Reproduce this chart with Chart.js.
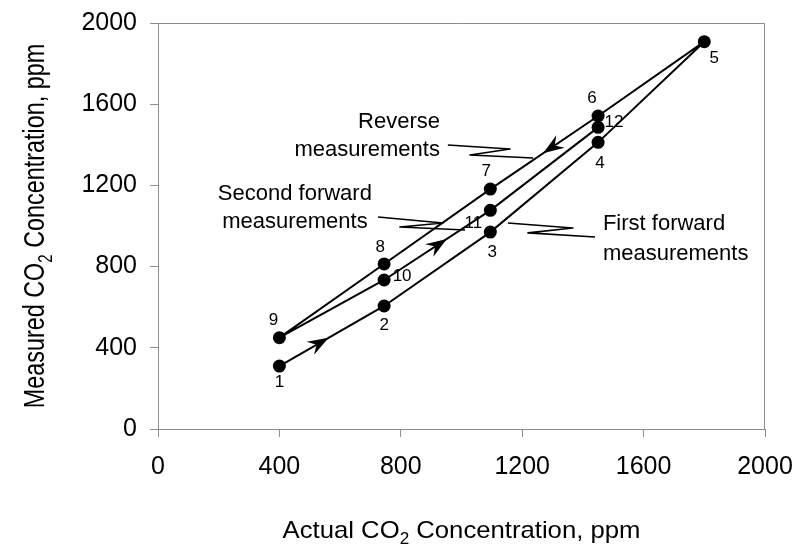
<!DOCTYPE html>
<html>
<head>
<meta charset="utf-8">
<script src="https://cdn.jsdelivr.net/npm/chart.js@4.4.1/dist/chart.umd.min.js"></script>
<style>
  html, body { margin: 0; padding: 0; background: #fff; }
</style>
</head>
<body>
<canvas id="grafico" width="796" height="546"></canvas>
<script>
// measurement sequence: up the range, back down, then up again
const actualPpm   = [400, 745, 1095, 1450, 1800, 1450, 1095, 745, 400, 745, 1095, 1450];
const measuredPpm = [310, 606, 970, 1412, 1908, 1542, 1182, 813, 450, 734, 1077, 1486];
const stepLabels  = ['1', '2', '3', '4', '5', '6', '7', '8', '9', '10', '11', '12'];
const xTicks = [0, 400, 800, 1200, 1600, 2000];
const yTicks = [0, 400, 800, 1200, 1600, 2000];

// where each step number sits next to its point (px)
const labelOffsets = [[0, 16], [0, 19], [2, 20], [2, 21], [10, 17], [-6, -18],
                      [-4, -18], [-4, -17], [-6, -17], [18, -4], [-17, 13], [16, -5]];

// direction arrows: segment index (from point i to i+1) and position along it
const arrows = [{ seg: 0, t: 0.47 }, { seg: 9, t: 0.59 }, { seg: 5, t: 0.51 }];

// text callouts with their zigzag leader lines, in data units
const callouts = [
  { lines: ['Reverse', 'measurements'], x: 929, y: [1483, 1345], align: 'right',
    lead: [[955, 1399], [1160, 1379], [1028, 1350], [1236, 1335]] },
  { lines: ['Second forward', 'measurements'], x: 451, y: [1128, 990], align: 'center',
    lead: [[725, 1044], [939, 1015], [797, 995], [1012, 980]] },
  { lines: ['First forward', 'measurements'], x: 1466, y: [980, 832], align: 'left',
    lead: [[1153, 1015], [1367, 990], [1219, 966], [1440, 946]] }
];

const xTitle = [{ t: 'Actual CO' }, { t: '2', sub: true }, { t: ' Concentration, ppm' }];
const yTitle = [{ t: 'Measured CO' }, { t: '2', sub: true }, { t: ' Concentration, ppm' }];

const fontFamily = '"Liberation Sans", Arial, sans-serif';
const axisGray = '#8c8c8c';

// draws text with a subscript part, centred on x, baseline at y
function richText(ctx, parts, x, y, size) {
  const subSize = Math.round(size * 0.66);
  let total = 0;
  parts.forEach(p => {
    ctx.font = (p.sub ? subSize : size) + 'px ' + fontFamily;
    p.w = ctx.measureText(p.t).width;
    total += p.w;
  });
  let cx = x - total / 2;
  ctx.textAlign = 'left';
  ctx.textBaseline = 'alphabetic';
  parts.forEach(p => {
    ctx.font = (p.sub ? subSize : size) + 'px ' + fontFamily;
    ctx.fillText(p.t, cx, p.sub ? y + size * 0.25 : y);
    cx += p.w;
  });
}

function arrowHead(ctx, x, y, ang) {
  ctx.save();
  ctx.translate(x, y);
  ctx.rotate(ang);
  ctx.beginPath();
  ctx.moveTo(0, 0);
  ctx.lineTo(-21, -7.5);
  ctx.lineTo(-14, 0);
  ctx.lineTo(-21, 7.5);
  ctx.closePath();
  ctx.fill();
  ctx.restore();
}

const overlay = {
  id: 'overlay',
  afterDatasetsDraw(chart) {
    const ctx = chart.ctx;
    const xs = chart.scales.x, ys = chart.scales.y, area = chart.chartArea;
    const px = v => xs.getPixelForValue(v);
    const py = v => ys.getPixelForValue(v);
    ctx.save();

    // top and right sides of the plot frame
    ctx.strokeStyle = axisGray;
    ctx.lineWidth = 1;
    ctx.beginPath();
    ctx.moveTo(area.left, area.top + 0.5);
    ctx.lineTo(area.right - 0.5, area.top + 0.5);
    ctx.lineTo(area.right - 0.5, area.bottom);
    ctx.stroke();

    ctx.fillStyle = '#000';
    ctx.strokeStyle = '#000';

    // arrows showing the order of measurements
    arrows.forEach(a => {
      const x1 = px(actualPpm[a.seg]), y1 = py(measuredPpm[a.seg]);
      const x2 = px(actualPpm[a.seg + 1]), y2 = py(measuredPpm[a.seg + 1]);
      const ang = Math.atan2(y2 - y1, x2 - x1);
      arrowHead(ctx, x1 + (x2 - x1) * a.t, y1 + (y2 - y1) * a.t, ang);
    });

    // callouts
    ctx.lineWidth = 1.6;
    ctx.lineJoin = 'round';
    callouts.forEach(c => {
      ctx.beginPath();
      c.lead.forEach((p, i) => {
        if (i === 0) ctx.moveTo(px(p[0]), py(p[1]));
        else ctx.lineTo(px(p[0]), py(p[1]));
      });
      ctx.stroke();
      ctx.font = '22px ' + fontFamily;
      ctx.textAlign = c.align;
      ctx.textBaseline = 'alphabetic';
      c.lines.forEach((s, i) => ctx.fillText(s, px(c.x), py(c.y[i])));
    });

    // step numbers
    ctx.font = '17px ' + fontFamily;
    ctx.textAlign = 'center';
    ctx.textBaseline = 'middle';
    stepLabels.forEach((s, i) => {
      ctx.fillText(s, px(actualPpm[i]) + labelOffsets[i][0], py(measuredPpm[i]) + labelOffsets[i][1]);
    });

    // axis titles
    ctx.save();
    ctx.translate((area.left + area.right) / 2, 538);
    ctx.scale(1.07, 1);
    richText(ctx, xTitle, 0, 0, 24);
    ctx.restore();

    ctx.save();
    ctx.translate(44, (area.top + area.bottom) / 2);
    ctx.rotate(-Math.PI / 2);
    ctx.scale(1, 1.3);
    richText(ctx, yTitle, 0, 0, 23.4);
    ctx.restore();

    ctx.restore();
  }
};

const points = actualPpm.map((x, i) => ({ x: x, y: measuredPpm[i] }));

const ctx = document.getElementById('grafico').getContext('2d');
const grafico = new Chart(ctx, {
  type: 'scatter',
  data: {
    datasets: [{
      data: points,
      showLine: true,
      borderColor: '#000',
      borderWidth: 2,
      tension: 0,
      pointRadius: 6.5,
      pointBackgroundColor: '#000',
      pointBorderColor: '#000',
      pointBorderWidth: 0
    }]
  },
  options: {
    responsive: false,
    animation: false,
    events: [],
    layout: { padding: { top: 23, right: 31, left: 0, bottom: 0 } },
    plugins: { legend: { display: false }, tooltip: { enabled: false } },
    scales: {
      x: {
        type: 'linear',
        min: 0,
        max: 2000,
        afterBuildTicks: s => { s.ticks = xTicks.map(v => ({ value: v })); },
        afterFit: s => { s.height = 117; s.paddingLeft = 0; s.paddingRight = 0; },
        ticks: { color: '#000', font: { family: fontFamily, size: 25 }, padding: 15, maxRotation: 0,
                 callback: v => String(v) },
        grid: { drawOnChartArea: false, tickLength: 8, color: axisGray },
        border: { color: axisGray }
      },
      y: {
        type: 'linear',
        min: 0,
        max: 2000,
        afterBuildTicks: s => { s.ticks = yTicks.map(v => ({ value: v })); },
        afterFit: s => { s.width = 158; s.paddingTop = 0; s.paddingBottom = 0; },
        ticks: { color: '#000', font: { family: fontFamily, size: 25 }, padding: 13,
                 callback: v => String(v) },
        grid: { drawOnChartArea: false, tickLength: 8, color: axisGray },
        border: { color: axisGray }
      }
    }
  },
  plugins: [overlay]
});
</script>
</body>
</html>
